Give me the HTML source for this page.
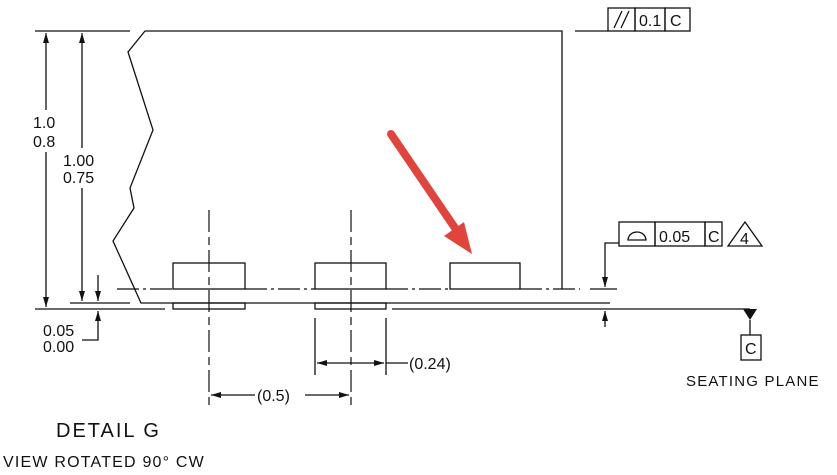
<!DOCTYPE html>
<html><head><style>body{margin:0;background:#fff}svg{display:block}text{font-family:"Liberation Sans",sans-serif;fill:#111}</style></head><body>
<svg width="837" height="475" viewBox="0 0 837 475" xmlns="http://www.w3.org/2000/svg">
<defs><marker id="a" viewBox="0 0 10 6" refX="10" refY="3" markerWidth="10" markerHeight="6" orient="auto" markerUnits="userSpaceOnUse"><path d="M0,0L10,3L0,6z" fill="#111"/></marker></defs>
<g stroke="#111" stroke-width="1.3" fill="none">
<path d="M35,31H130M145,31H562V289"/>
<path d="M145,31L128,52L153,130L130,188L134,208L113,241L141,303H610"/>
<path d="M35,309H165M70,303H130"/>
<path d="M46,110V33" marker-end="url(#a)"/>
<path d="M46,152V307" marker-end="url(#a)"/>
<path d="M82,148V33" marker-end="url(#a)"/>
<path d="M82,188V301" marker-end="url(#a)"/>
<path d="M98,275V301" marker-end="url(#a)"/>
<path d="M82,340H98V311" marker-end="url(#a)"/>
<rect x="173" y="263" width="72" height="26"/><rect x="315" y="263" width="71" height="26"/><rect x="450" y="263" width="70" height="26"/>
<rect x="173" y="303" width="72" height="6"/><rect x="315" y="303" width="71" height="6"/>
<path d="M117,289H173M245,289H315M386,289H450M520,289H580" stroke-dasharray="22,4,3,4"/>
<path d="M590,289H617"/>
<path d="M209,210V405M351,210V405" stroke-dasharray="22,5,8,5" stroke-width="1.2"/>
<path d="M392,309H750"/>
<path d="M315,318V375M386,318V375"/>
<path d="M351,363H317" marker-end="url(#a)"/><path d="M351,363H384" marker-end="url(#a)"/><path d="M386,363H408"/>
<path d="M255,395H211" marker-end="url(#a)"/><path d="M305,395H349" marker-end="url(#a)"/>
<path d="M575,31H608"/>
<rect x="608" y="8" width="27" height="23"/><rect x="635" y="8" width="30" height="23"/><rect x="665" y="8" width="25" height="23"/>
<path d="M614,28L622,11M621,28L629,11"/>
<rect x="619" y="222" width="36" height="24"/><rect x="655" y="222" width="50" height="24"/><rect x="705" y="222" width="17" height="24"/>
<path d="M628,240A9,8 0 0 1 646,240Z"/>
<path d="M745,222L728,246H762Z"/>
<path d="M619,243H605V287" marker-end="url(#a)"/>
<path d="M605,327V311" marker-end="url(#a)"/>
<path d="M750,320V335"/><rect x="741" y="335" width="20" height="25"/>
</g>
<path d="M743,309H757L750,320Z" fill="#111"/>
<g stroke="#e0443c" stroke-width="8" stroke-linecap="round" fill="none"><path d="M391,134L455,228"/></g>
<path d="M472,254L444,236L464,222Z" fill="#e0443c"/>
<g font-size="16">
<text x="33" y="128">1.0</text><text x="33" y="147">0.8</text>
<text x="63" y="166">1.00</text><text x="63" y="183">0.75</text>
<text x="43" y="336">0.05</text><text x="43" y="352">0.00</text>
<text x="257" y="401">(0.5)</text>
<text x="409" y="369">(0.24)</text>
<text x="639" y="26">0.1</text><text x="670" y="26">C</text>
<text x="659" y="242">0.05</text><text x="708" y="242">C</text><text x="740" y="244">4</text>
<text x="745" y="354">C</text>
<text x="686" y="386" font-size="15" letter-spacing="1.2">SEATING PLANE</text>
<text x="56" y="437" font-size="20" letter-spacing="2">DETAIL G</text>
<text x="3" y="467" font-size="16" letter-spacing="1.2">VIEW ROTATED 90° CW</text>
</g>
</svg>
</body></html>
